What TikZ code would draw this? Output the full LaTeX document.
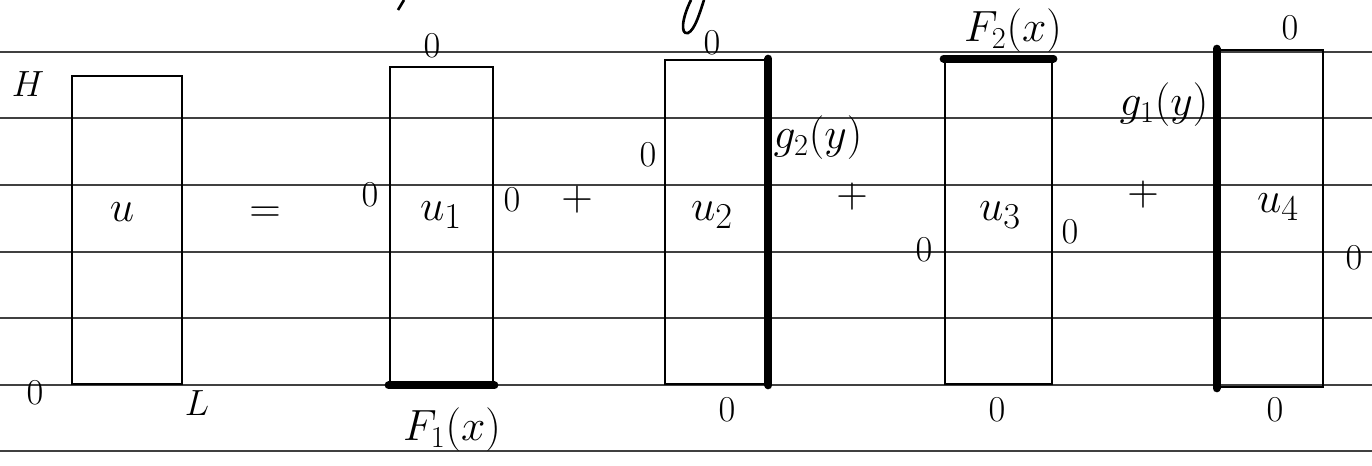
\documentclass[tikz,border=0pt]{standalone}
\usetikzlibrary{calc}
\begin{document}
\begin{tikzpicture}[x=0.02cm,y=-0.02cm,
  rule/.style={draw=black!75,line width=0.7pt},
  rbox/.style={draw,line width=1.6pt,minimum width=#1,inner sep=0pt},
  hot/.style={line width=4.5pt,line cap=round},
  ulab/.style={inner sep=1pt,font=\fontsize{32}{34}\selectfont},
  lab/.style={inner sep=1pt,font=\fontsize{24}{26}\selectfont},
  zlab/.style={inner sep=1pt,font=\fontsize{21}{23}\selectfont},
  op/.style={inner sep=1pt,font=\fontsize{28}{30}\selectfont}]
\useasboundingbox (0,0) rectangle (1372,466);
\fill[white] (0,0) rectangle (1372,466);
% ruled paper
\foreach \yy in {52,118,185,252,318,385,451}
  \draw[rule] (0,\yy) -- (1372,\yy);
% fragments at top edge
\draw[line width=1.5pt] (404,0) -- (398,10);
\draw[line width=1.5pt] (691,0) .. controls (682,18) and (680,35) .. (688,33) .. controls (695,30) and (700,12) .. (704,0);
% boxes
\node[rbox=2.2cm,minimum height=6.16cm] (B0) at (127,230) {};
\node[rbox=2.06cm,minimum height=6.34cm] (B1) at (441.5,225.5) {};
\node[rbox=2.04cm,minimum height=6.48cm] (B2) at (716,222) {};
\node[rbox=2.14cm,minimum height=6.48cm] (B3) at (998.5,222) {};
\node[rbox=2.1cm,minimum height=6.74cm] (B4) at (1270.5,218.5) {};
% highlighted (non-zero) boundaries
\draw[hot] (B1.south west) -- (B1.south east);
\draw[hot] (B2.north east) -- (B2.south east);
\draw[hot] (B3.north west) -- (B3.north east);
\draw[hot] (B4.north west) -- (B4.south west);
% box u
\node[zlab] (H) at (28,84) {$H$};
\node[zlab] (o0) at (35,393) {$0$};
\node[zlab] (L) at (197,403) {$L$};
\node[ulab] (u) at (122,212) {$u$};
\node[inner sep=1pt,font=\fontsize{24}{26}\selectfont] (eq) at (265,215) {$=$};
% box u1
\node[zlab] (u1t) at (432,46) {$0$};
\node[zlab] (u1l) at (370,195) {$0$};
\node[zlab] (u1r) at (512,200) {$0$};
\node[ulab] (u1) at (441,215) {$u_1$};
\node[lab] (F1) at (452,430) {$F_1(x)$};
\node[op] (p1) at (577,200) {$+$};
% box u2
\node[zlab] (u2t) at (712,43) {$0$};
\node[zlab] (u2l) at (648,155) {$0$};
\node[ulab] (u2) at (712,215) {$u_2$};
\node[lab] (g2) at (818,138) {$g_2(y)$};
\node[zlab] (u2b) at (727,410) {$0$};
\node[op] (p2) at (852,197) {$+$};
% box u3
\node[lab] (F2) at (1013,31) {$F_2(x)$};
\node[zlab] (u3l) at (924,250) {$0$};
\node[ulab] (u3) at (1000,215) {$u_3$};
\node[zlab] (u3r) at (1070,232) {$0$};
\node[zlab] (u3b) at (997,410) {$0$};
\node[op] (p3) at (1143,195) {$+$};
% box u4
\node[lab] (g1) at (1164,105) {$g_1(y)$};
\node[zlab] (u4t) at (1290,28) {$0$};
\node[ulab] (u4) at (1278,207) {$u_4$};
\node[zlab] (u4r) at (1354,258) {$0$};
\node[zlab] (u4b) at (1275,410) {$0$};
\end{tikzpicture}
\end{document}
